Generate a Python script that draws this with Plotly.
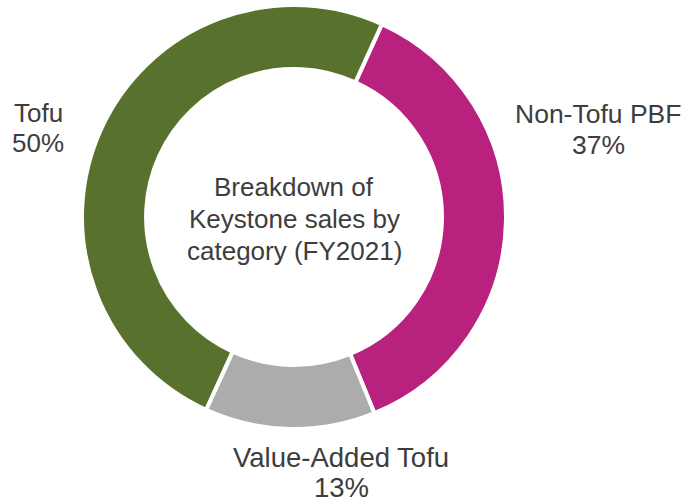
import plotly.graph_objects as go

categories = ["Non-Tofu PBF", "Value-Added Tofu", "Tofu"]
shares = [37, 13, 50]
colors = ["#B8217D", "#ADACAC", "#58722E"]
center_lines = ["Breakdown of", "Keystone sales by", "category (FY2021)"]

FONT = "Liberation Sans, Arial, sans-serif"
TEXT_COLOR = "#3d3d3d"
W, H = 686, 502

fig = go.Figure()
fig.add_trace(go.Pie(
    labels=categories,
    values=shares,
    sort=False,
    direction="clockwise",
    rotation=24.5,
    hole=0.698,
    marker=dict(colors=colors, line=dict(color="white", width=4)),
    textinfo="none",
    hoverinfo="label+percent",
    showlegend=False,
    domain=dict(x=[82 / W, 506 / W], y=[1 - 429 / H, 1 - 5 / H]),
))

# label positions in pixels (x center, y of first line, y of second line, font size)
label_pos = {
    "Tofu": (38, 113, 143, 26),
    "Non-Tofu PBF": (598, 113.5, 145, 26.5),
    "Value-Added Tofu": (341, 457.5, 487, 27.5),
}

annotations = []
for cat, val in zip(categories, shares):
    x, y1, y2, fs = label_pos[cat]
    for txt, yy in ((cat, y1), (f"{val}%", y2)):
        annotations.append(dict(
            text=txt, x=x / W, y=1 - yy / H, xref="paper", yref="paper",
            xanchor="center", yanchor="middle", showarrow=False,
            font=dict(family=FONT, size=fs, color=TEXT_COLOR),
        ))

for txt, yy in zip(center_lines, [187, 219, 251]):
    annotations.append(dict(
        text=txt, x=294 / W, y=1 - yy / H, xref="paper", yref="paper",
        xanchor="center", yanchor="middle", showarrow=False,
        font=dict(family=FONT, size=26, color=TEXT_COLOR),
    ))

fig.update_layout(
    width=W, height=H,
    margin=dict(l=0, r=0, t=0, b=0),
    paper_bgcolor="white", plot_bgcolor="white",
    annotations=annotations,
    font=dict(family=FONT),
)

fig.write_html(
    "out.html",
    config={"displayModeBar": False},
    post_script="document.body.style.margin='0';document.body.style.overflow='hidden';",
)
